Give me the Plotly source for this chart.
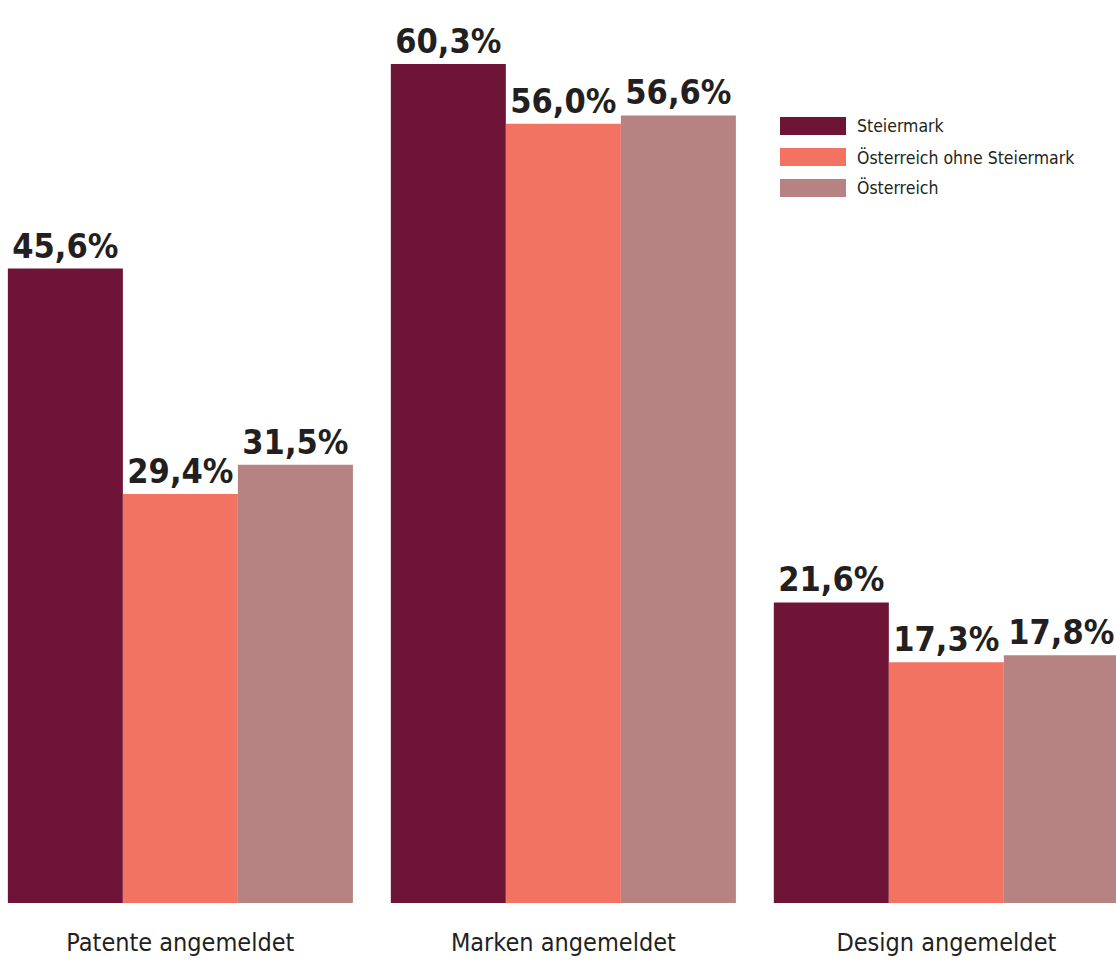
import plotly.graph_objects as go

# Share of firms reporting IP registrations, by region
categories = ["Patente angemeldet", "Marken angemeldet", "Design angemeldet"]
series_names = ["Steiermark", "Österreich ohne Steiermark", "Österreich"]
steiermark = [45.6, 60.3, 21.6]
oesterreich_ohne_stmk = [29.4, 56.0, 17.3]
oesterreich = [31.5, 56.6, 17.8]

series_values = [steiermark, oesterreich_ohne_stmk, oesterreich]
colors = ["#6E1537", "#F27361", "#B78282"]

FONT = "DejaVu Sans Condensed, DejaVu Sans, sans-serif"
TEXT_COLOR = "#231F20"

fig = go.Figure()
for name, vals, col in zip(series_names, series_values, colors):
    fig.add_trace(go.Bar(
        x=categories,
        y=vals,
        name=name,
        marker=dict(color=col, line=dict(width=0)),
        texttemplate="<b>%{y:.1f}%</b>",
        textposition="outside",
        constraintext="none",
        textfont=dict(family=FONT, size=34, color=TEXT_COLOR),
        cliponaxis=False,
        showlegend=False,
    ))

W, H = 1116, 962
M_B = 59
plot_h = H - M_B

# Custom legend with wide colour swatches
row_centers_px = [126, 157, 188]
for name, col, cy in zip(series_names, colors, row_centers_px):
    yc = (plot_h - cy) / plot_h
    fig.add_shape(type="rect", xref="paper", yref="paper",
                  x0=780 / W, x1=846 / W,
                  y0=yc - 9 / plot_h, y1=yc + 9 / plot_h,
                  fillcolor=col, line=dict(width=0))
    fig.add_annotation(xref="paper", yref="paper", x=855 / W, y=yc,
                       text=name, showarrow=False, xanchor="left", yanchor="middle",
                       font=dict(family=FONT, size=17.5, color=TEXT_COLOR))

fig.update_layout(
    width=W, height=H,
    margin=dict(l=0, r=0, t=0, b=M_B),
    paper_bgcolor="white", plot_bgcolor="white",
    barmode="group", bargap=0.099, bargroupgap=0,
    separators=",.",
    xaxis=dict(range=[-0.471, 2.443], showgrid=False, showline=False, zeroline=False,
               ticks="", ticklabelstandoff=22,
               tickfont=dict(family=FONT, size=25, color=TEXT_COLOR)),
    yaxis=dict(range=[0, 64.9], visible=False, showgrid=False, zeroline=False),
)

fig.write_html("out.html")
